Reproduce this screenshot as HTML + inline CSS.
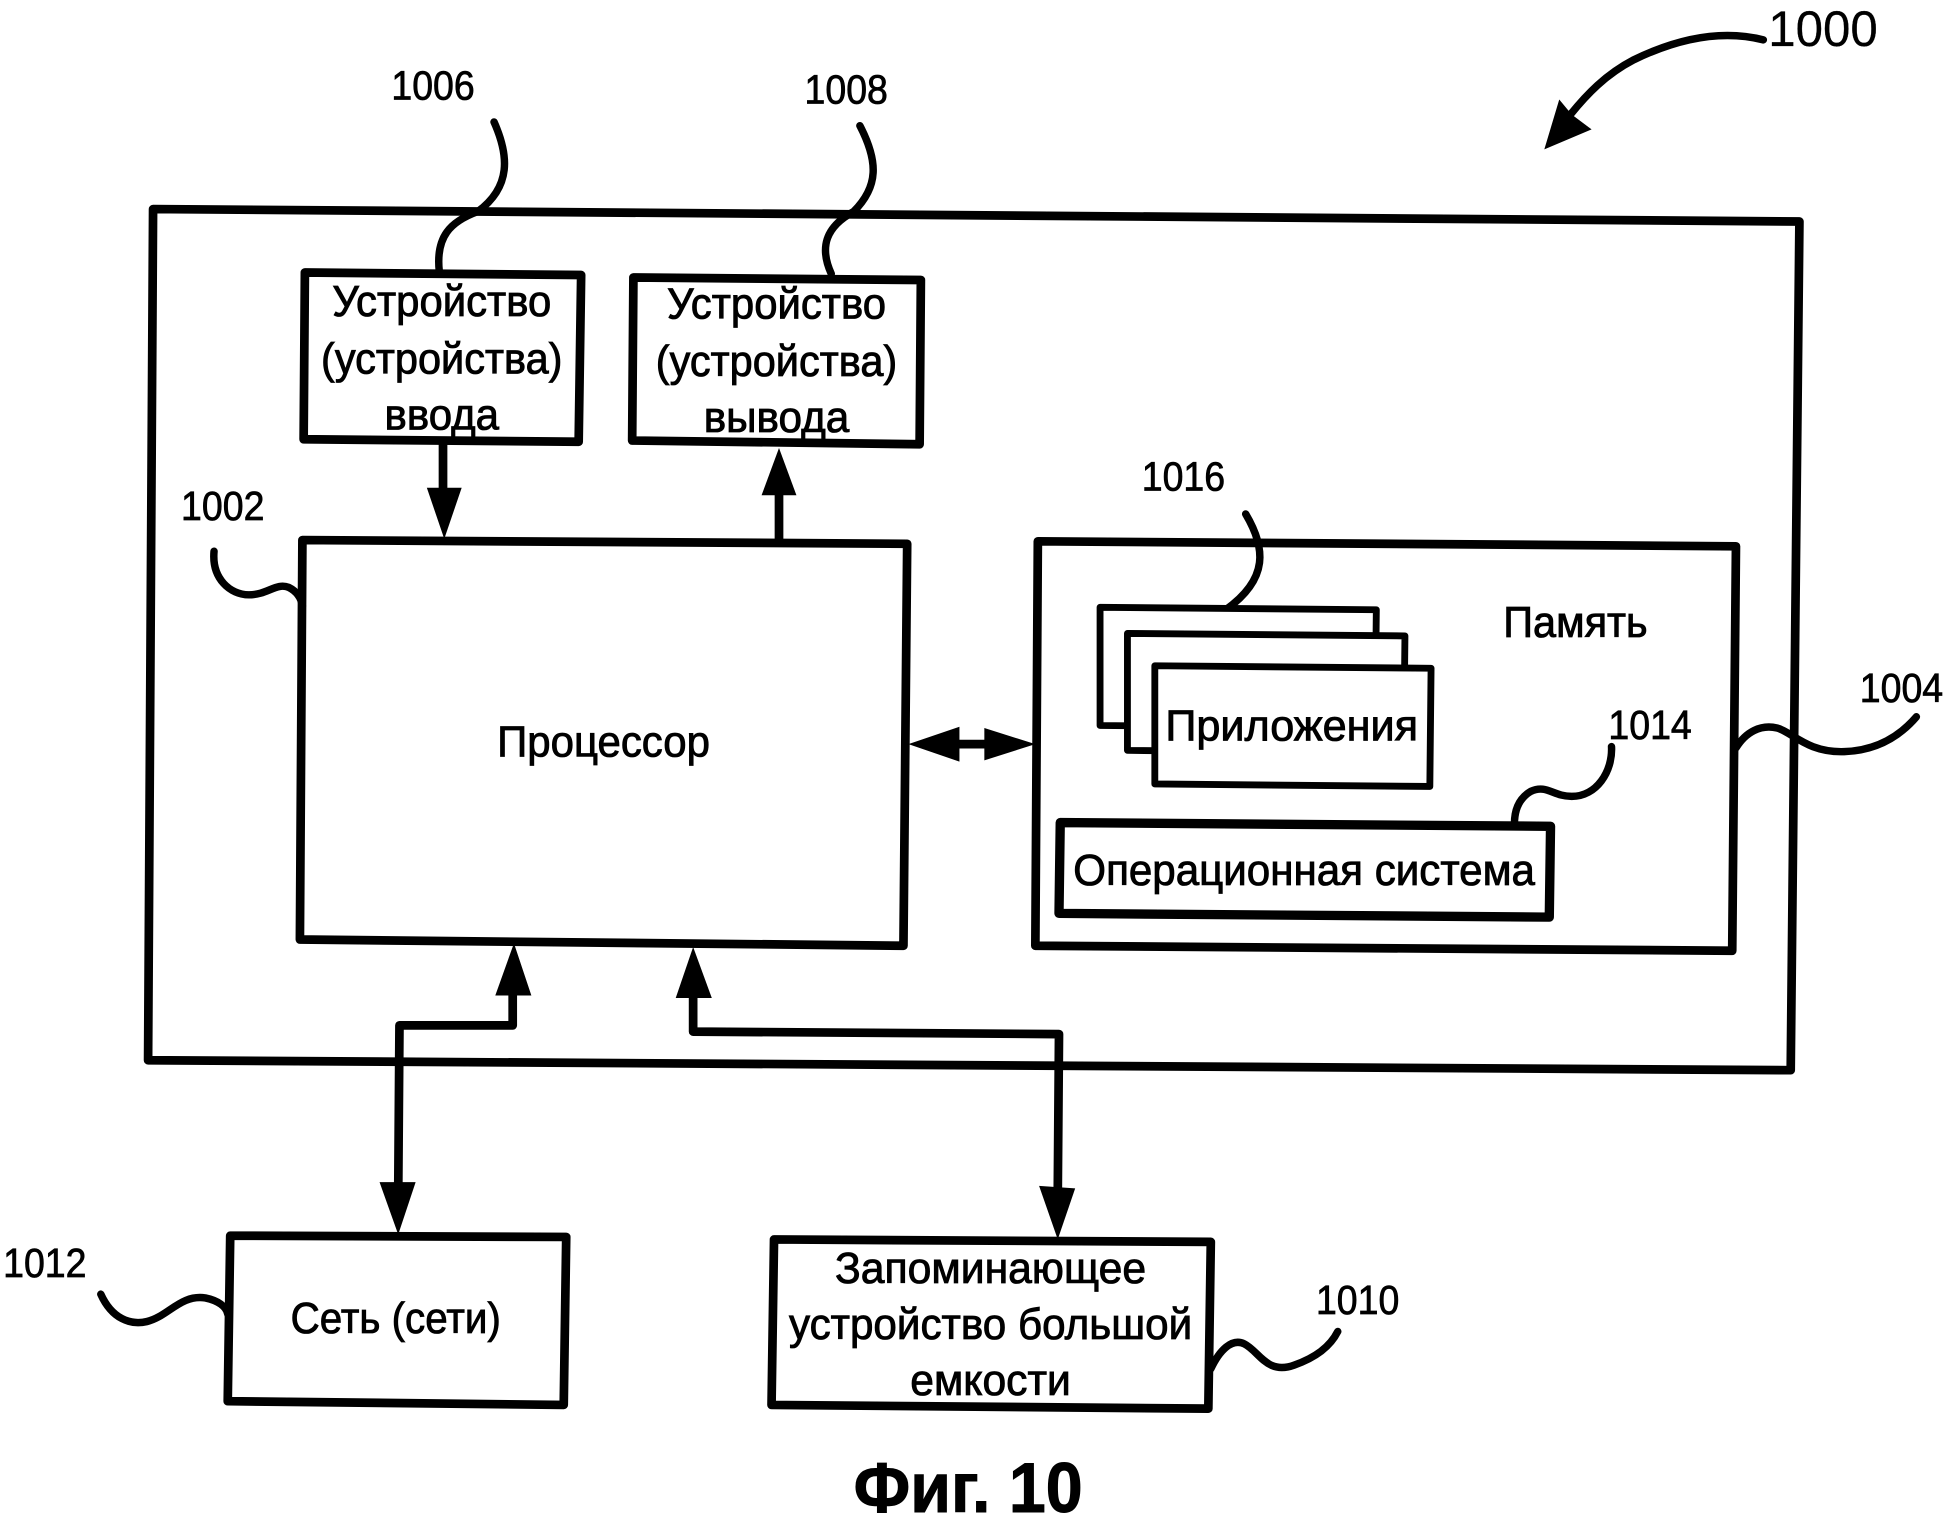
<!DOCTYPE html>
<html><head><meta charset="utf-8"><style>
html,body{margin:0;padding:0;background:#fff}
svg{display:block}
text{font-family:"Liberation Sans","DejaVu Sans",sans-serif;fill:#000;stroke:#000;stroke-width:.7;font-size:35px}
.n{font-size:33px;stroke-width:.6}
</style></head><body>
<svg width="1950" height="1529" viewBox="0 0 1567 1228.7" xmlns="http://www.w3.org/2000/svg">
<rect width="1567" height="1229" fill="#fff"/>
<g fill="none" stroke="#000" stroke-linejoin="round" stroke-linecap="round">
<path stroke-width="7" d="M123 168L1446 178L1439 860L119 852Z"/>
<!-- squiggles crossing the outer box -->
<path stroke-width="6" d="M397 98C409 125 411 150 384 170C362 178 350 190 353 218"/>
<path stroke-width="6" d="M691 101C706 130 706 150 686 170C664 182 658 198 668 220"/>
<path stroke-width="7" fill="#fff" d="M245 219L467 221L465 355L244 353Z"/>
<path stroke-width="7" fill="#fff" d="M509 223L740 225L739 357L508 354Z"/>
<path stroke-width="7" fill="#fff" d="M243 434L729 437L726 760L241 755Z"/>
<path stroke-width="7" fill="#fff" d="M834 435L1395 439L1392 764L832 760Z"/>
<path stroke-width="6" d="M1001 413C1017 440 1020 465 985 490"/>
<path stroke-width="5.5" fill="#fff" d="M884 488L1106 490L1105 585L884 583Z"/>
<path stroke-width="5.5" fill="#fff" d="M906 509L1129 511L1128 605L906 603Z"/>
<path stroke-width="5.5" fill="#fff" d="M928 535L1150 537L1149 632L928 630Z"/>
<path stroke-width="7.5" fill="#fff" d="M852 661L1246 664L1245 737L851 734Z"/>
<path stroke-width="7" fill="#fff" d="M185 993L455 994L453 1129L183 1126Z"/>
<path stroke-width="7" fill="#fff" d="M622 996L973 998L971 1132L620 1129Z"/>
<!-- connectors -->
<path stroke-width="7" stroke-linecap="butt" d="M356 355V395M626 435V395M770 598H792"/>
<path stroke-width="7" stroke-linecap="butt" stroke-linejoin="round" d="M412 800V824H321L320 960"/>
<path stroke-width="7" stroke-linecap="butt" stroke-linejoin="round" d="M557 802V829L851 831L850 960"/>
<!-- squiggles -->
<path stroke-width="6" d="M1417 32C1385 24 1350 30 1313 48C1290 60 1275 76 1262 92"/>
<path stroke-width="6" d="M172 443C170 465 185 478 200 478C215 478 222 468 232 472C238 475 242 480 243 487"/>
<path stroke-width="6" d="M1295 600C1296 620 1283 640 1263 640C1248 640 1243 630 1230 636C1220 642 1217 652 1217 662"/>
<path stroke-width="6" d="M1395 601C1403 588 1415 582 1428 585C1440 588 1452 605 1482 604C1510 603 1528 590 1540 576"/>
<path stroke-width="6" d="M81 1040C90 1060 105 1065 118 1062C135 1058 145 1040 165 1043C175 1045 182 1050 183 1056"/>
<path stroke-width="6" d="M973 1100C980 1085 990 1075 1000 1080C1012 1086 1018 1105 1040 1097C1060 1090 1070 1080 1075 1070"/>
</g>
<g fill="#000">
<polygon points="1241,120 1253,80 1263,92 1279,104"/>
<polygon points="343,392 371,392 357,433"/>
<polygon points="612,398 640,398 626,360"/>
<polygon points="730,598 771,584 771,612"/>
<polygon points="832,598 791,585 791,611"/>
<polygon points="413,758 398,800 427,800"/>
<polygon points="305,950 334,950 320,992"/>
<polygon points="557,761 543,802 572,802"/>
<polygon points="835,953 864,955 850,996"/>
</g>
<g text-anchor="middle">
<text x="355" y="254" textLength="176" lengthAdjust="spacingAndGlyphs">Устройство</text>
<text x="355" y="300" textLength="194" lengthAdjust="spacingAndGlyphs">(устройства)</text>
<text x="355" y="345" textLength="92" lengthAdjust="spacingAndGlyphs">ввода</text>
<text x="624" y="256" textLength="176" lengthAdjust="spacingAndGlyphs">Устройство</text>
<text x="624" y="302" textLength="194" lengthAdjust="spacingAndGlyphs">(устройства)</text>
<text x="624" y="347" textLength="117" lengthAdjust="spacingAndGlyphs">вывода</text>
<text x="485" y="608" textLength="171" lengthAdjust="spacingAndGlyphs">Процессор</text>
<text x="1266" y="512" textLength="116" lengthAdjust="spacingAndGlyphs">Память</text>
<text x="1038" y="595" textLength="203" lengthAdjust="spacingAndGlyphs">Приложения</text>
<text x="1048" y="711" textLength="371" lengthAdjust="spacingAndGlyphs">Операционная система</text>
<text x="318" y="1071" textLength="169" lengthAdjust="spacingAndGlyphs">Сеть (сети)</text>
<text x="796" y="1031" textLength="250" lengthAdjust="spacingAndGlyphs">Запоминающее</text>
<text x="796" y="1076" textLength="324" lengthAdjust="spacingAndGlyphs">устройство большой</text>
<text x="796" y="1121" textLength="129" lengthAdjust="spacingAndGlyphs">емкости</text>
<text class="n" x="348" y="80" textLength="67" lengthAdjust="spacingAndGlyphs">1006</text>
<text class="n" x="680" y="83" textLength="67" lengthAdjust="spacingAndGlyphs">1008</text>
<text class="n" x="179" y="418" textLength="67" lengthAdjust="spacingAndGlyphs">1002</text>
<text class="n" x="951" y="394" textLength="67" lengthAdjust="spacingAndGlyphs">1016</text>
<text class="n" x="1326" y="594" textLength="67" lengthAdjust="spacingAndGlyphs">1014</text>
<text class="n" x="1528" y="564" textLength="67" lengthAdjust="spacingAndGlyphs">1004</text>
<text class="n" x="36" y="1026" textLength="67" lengthAdjust="spacingAndGlyphs">1012</text>
<text class="n" x="1091" y="1056" textLength="67" lengthAdjust="spacingAndGlyphs">1010</text>
<text x="1465" y="37" style="font-size:40px;stroke-width:.2" textLength="88" lengthAdjust="spacingAndGlyphs">1000</text>
<text x="778" y="1215" style="font-size:57px;font-weight:bold;stroke-width:.8" textLength="184" lengthAdjust="spacingAndGlyphs">Фиг. 10</text>
</g>
</svg>
</body></html>
